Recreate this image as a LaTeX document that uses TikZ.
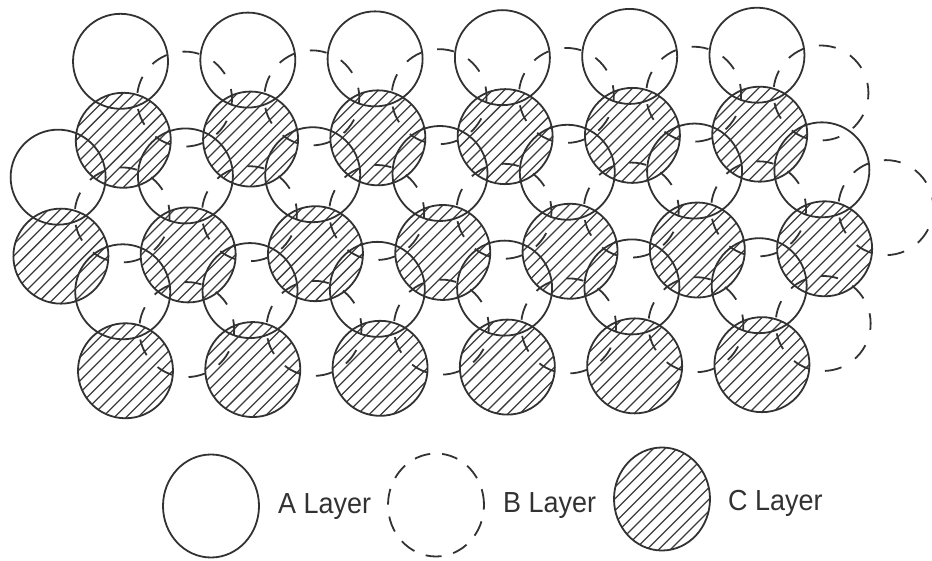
\documentclass[tikz,border=0pt]{standalone}
\usepackage{fontspec}
\usetikzlibrary{shapes.geometric}
\newfontfamily\legendfont[FakeStretch=0.93]{Liberation Sans}
\definecolor{ink}{RGB}{50,50,50}
\definecolor{hatchink}{RGB}{60,60,60}

\tikzset{
  ball/.style={circle, minimum size=95pt, inner sep=0pt, draw=ink, line width=1.8pt},
  hatched/.style={path picture={
      \foreach \k in {-6,...,6}
        \draw[hatchink, line width=1.25pt]
          ([shift={(\k*11.8pt-60pt,-60pt)}]path picture bounding box.center) -- ++(120pt,120pt);}},
  alayer/.style={ball},
  blayer/.style={ball, dash pattern=on 17pt off 16.2pt, dash phase=6.8pt},
  clayer/.style={ball, hatched},
  legball/.style={ellipse, minimum width=96pt, minimum height=103pt, inner sep=0pt,
                  draw=ink, line width=1.8pt},
  legtext/.style={font=\legendfont\fontsize{29}{34}\selectfont, text=ink,
                  anchor=base west, inner sep=0pt},
}

\begin{document}
\begin{tikzpicture}[x=1pt, y=1pt]
  \useasboundingbox (0,0) rectangle (932,560);

  % close-packed layers: A on a hexagonal lattice, B and C in the two hollow sites
  \begin{scope}[rotate around={0.55:(466,345)}]
    \foreach \j in {0,1,2} {
      \pgfmathtruncatemacro\odd{mod(\j,2)}
      \pgfmathsetmacro\xs{(\odd==1) ? 58.5 : 122}
      \pgfmathtruncatemacro\n{(\odd==1) ? 6 : 5}
      \pgfmathsetmacro\yy{560-58-\j*115.25}
      % C layer (hatched)
      \foreach \i in {0,...,\n}
        \node[clayer] (C-\j-\i) at ({\xs+2+\i*127.3}, {\yy-79}) {};
      % A layer (solid)
      \foreach \i in {0,...,\n}
        \node[alayer] (A-\j-\i) at ({\xs+\i*127.3}, \yy) {};
      % B layer (dashed)
      \foreach \i in {0,...,\n}
        \node[blayer] (B-\j-\i) at ({\xs+63.6+\i*127.3}, {\yy-38.4}) {};
    }
  \end{scope}

  % key
  \node[legball] (keyA) at (211,54) {};
  \node[legtext] (keyAtext) at (278,47) {A Layer};
  \node[legball, dash pattern=on 16pt off 12pt] (keyB) at (436,55) {};
  \node[legtext] (keyBtext) at (503,48) {B Layer};
  \node[legball, hatched] (keyC) at (662,61) {};
  \node[legtext] (keyCtext) at (728,50) {C Layer};
\end{tikzpicture}
\end{document}
